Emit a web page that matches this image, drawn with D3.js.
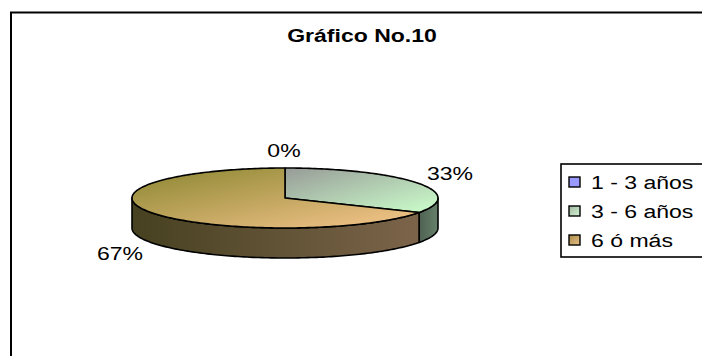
<!DOCTYPE html>
<html>
<head>
<meta charset="utf-8">
<script src="https://cdn.jsdelivr.net/npm/d3@7"></script>
<style>
  html, body { margin: 0; padding: 0; background: #fff; }
  svg { display: block; }
  text { font-family: "Liberation Sans", Arial, sans-serif; fill: #000; }
</style>
</head>
<body>
<svg id="chart" width="702" height="356"></svg>
<script>
// Chart data
const title = "Gráfico No.10";
const categories = ["1 - 3 años", "3 - 6 años", "6 ó más"];
const values = [0, 33, 67];   // percent of respondents

// Fill styles per category: top face gradient stops, side colours, legend swatch
const topStops = [
  ["#9999ff", "#9999ff"],
  ["#979b97", "#ccffcc"],
  ["#8a8630", "#f8c68e"]
];
const sideStops = [
  ["#6666aa", "#6666aa"],
  ["#4f6252", "#66806a"],
  ["#464120", "#7c644a"]
];
const swatchStops = [
  ["#9999ff", "#9999ff"],
  ["#a0b8a0", "#d4f4d4"],
  ["#a88a48", "#e8c088"]
];

const W = 702, H = 356;
const sx = 1.28;          // horizontal stretch of the whole chart's lettering
const cx = 285, cy = 198, rx = 153, ry = 30, depth = 30;

const svg = d3.select("#chart");
const defs = svg.append("defs");

function grad(id, stops, x1, y1, x2, y2) {
  const g = defs.append("linearGradient").attr("id", id)
    .attr("x1", x1).attr("y1", y1).attr("x2", x2).attr("y2", y2);
  g.append("stop").attr("offset", "0%").attr("stop-color", stops[0]);
  g.append("stop").attr("offset", "100%").attr("stop-color", stops[1]);
}
categories.forEach((c, i) => {
  grad("top" + i, topStops[i], "0%", "0%", "100%", "100%");
  grad("side" + i, sideStops[i], "0%", "0%", "100%", "0%");
  grad("sw" + i, swatchStops[i], "0%", "0%", "100%", "100%");
});

// Outer chart-area border
svg.append("rect")
  .attr("x", 11).attr("y", 12.5).attr("width", W).attr("height", H)
  .attr("fill", "none").attr("stroke", "#000").attr("stroke-width", 2);

// Title
svg.append("text")
  .attr("transform", `translate(362,42) scale(${sx},1)`)
  .attr("text-anchor", "middle")
  .style("font-size", "18px").style("font-weight", "bold")
  .text(title);

// Pie geometry (angle measured clockwise from 12 o'clock)
const pie = d3.pie().sort(null).value(d => d)(values);
const px = t => cx + rx * Math.sin(t);
const py = t => cy - ry * Math.cos(t);

function arcPoints(t0, t1, dy) {
  const n = Math.max(2, Math.ceil(Math.abs(t1 - t0) / 0.02));
  const pts = [];
  for (let k = 0; k <= n; k++) {
    const t = t0 + (t1 - t0) * k / n;
    pts.push([px(t), py(t) + dy]);
  }
  return pts;
}

const line = d3.line();
const gPie = svg.append("g");

// Side walls (front half only: angles between PI/2 and 3PI/2)
pie.forEach((s, i) => {
  if (s.endAngle - s.startAngle <= 0) return;
  const a0 = Math.max(s.startAngle, Math.PI / 2);
  const a1 = Math.min(s.endAngle, 3 * Math.PI / 2);
  if (a1 <= a0) return;
  const top = arcPoints(a0, a1, 0);
  const bot = arcPoints(a1, a0, depth);
  gPie.append("path")
    .attr("d", line(top.concat(bot)) + "Z")
    .attr("fill", `url(#side${i})`)
    .attr("stroke", "#000").attr("stroke-width", 1.6)
    .attr("stroke-linejoin", "round");
});

// Top faces
pie.forEach((s, i) => {
  if (s.endAngle - s.startAngle <= 0) return;
  const pts = [[cx, cy]].concat(arcPoints(s.startAngle, s.endAngle, 0));
  gPie.append("path")
    .attr("d", line(pts) + "Z")
    .attr("fill", `url(#top${i})`)
    .attr("stroke", "#000").attr("stroke-width", 1.6)
    .attr("stroke-linejoin", "round");
});

// Percentage labels placed outside each slice
const labelPos = [
  { x: 284, y: 157, anchor: "middle" },
  { x: 427, y: 180, anchor: "start" },
  { x: 143, y: 260, anchor: "end" }
];
values.forEach((v, i) => {
  const p = labelPos[i];
  svg.append("text")
    .attr("transform", `translate(${p.x},${p.y}) scale(${sx},1)`)
    .attr("text-anchor", p.anchor)
    .style("font-size", "18px")
    .text(v + "%");
});

// Legend
const lg = svg.append("g");
lg.append("rect")
  .attr("x", 561).attr("y", 164).attr("width", 200).attr("height", 93)
  .attr("fill", "#fff").attr("stroke", "#000").attr("stroke-width", 1.6);
const rowY = d3.scalePoint().domain(categories).range([182, 240]);
categories.forEach((c, i) => {
  const y = rowY(c);
  lg.append("rect")
    .attr("x", 569).attr("y", y - 5).attr("width", 11).attr("height", 10)
    .attr("fill", `url(#sw${i})`).attr("stroke", "#000").attr("stroke-width", 1.4);
  lg.append("text")
    .attr("transform", `translate(591,${y + 6.5}) scale(${sx},1)`)
    .style("font-size", "18px")
    .text(c);
});
</script>
</body>
</html>
